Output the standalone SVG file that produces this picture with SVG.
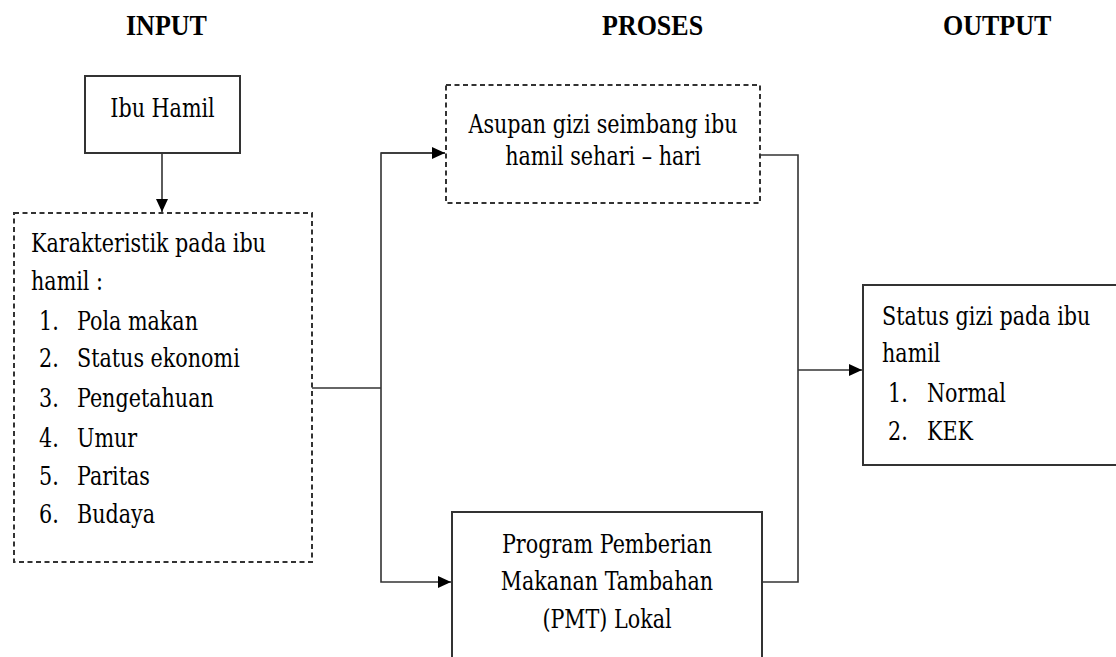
<svg xmlns="http://www.w3.org/2000/svg" width="1116" height="657" viewBox="0 0 1116 657">
<style>
text{font-family:"DejaVu Serif","Liberation Serif",serif;font-stretch:condensed;font-size:23px;fill:#000}
.h{font-family:"Liberation Serif","Times New Roman",serif;font-stretch:normal;font-size:26px;font-weight:bold}
.c{text-anchor:middle}
.box{fill:#fff;stroke:#333;stroke-width:2}
.dash{stroke-dasharray:5,3.5}
.ln{fill:none;stroke:#333;stroke-width:1.6}
</style>
<defs>
<marker id="ah" viewBox="0 0 10 10" refX="10" refY="5" markerWidth="13" markerHeight="12" markerUnits="userSpaceOnUse" orient="auto" preserveAspectRatio="none">
<path d="M0,0 L10,5 L0,10 Z" fill="#000"/>
</marker>
</defs>
<rect width="1116" height="657" fill="#fff"/>
<g id="headers" transform="scale(1,1.1)">
<text class="h" x="126" y="31.8">INPUT</text>
<text class="h" x="602" y="31.8">PROSES</text>
<text class="h" x="943" y="31.8">OUTPUT</text>
</g>
<g id="connectors">
<line class="ln" x1="162" y1="153" x2="162" y2="212" marker-end="url(#ah)"/>
<polyline class="ln" points="312,388 381,388"/>
<polyline class="ln" points="445,153 381,153 381,582 451,582" marker-end="url(#ah)"/>
<line class="ln" x1="381" y1="153" x2="445" y2="153" marker-end="url(#ah)"/>
<polyline class="ln" points="760,155 798,155 798,582 762,582"/>
<line class="ln" x1="798" y1="370" x2="862" y2="370" marker-end="url(#ah)"/>
</g>
<g id="ibu-hamil">
<rect class="box" x="85" y="76" width="155" height="77"/>
<g transform="scale(1,1.1)"><text class="c" x="162.5" y="106.4">Ibu Hamil</text></g>
</g>
<g id="karakteristik">
<rect class="box dash" x="14" y="213" width="298" height="349"/>
<g transform="scale(1,1.1)">
<text x="31" y="229.1">Karakteristik pada ibu</text>
<text x="31" y="263.6">hamil :</text>
<text x="39" y="300">1.</text><text x="77" y="300">Pola makan</text>
<text x="39" y="333.6">2.</text><text x="77" y="333.6">Status ekonomi</text>
<text x="39" y="370">3.</text><text x="77" y="370">Pengetahuan</text>
<text x="39" y="406.4">4.</text><text x="77" y="406.4">Umur</text>
<text x="39" y="440.9">5.</text><text x="77" y="440.9">Paritas</text>
<text x="39" y="475.5">6.</text><text x="77" y="475.5">Budaya</text>
</g>
</g>
<g id="asupan">
<rect class="box dash" x="446" y="85" width="314" height="118"/>
<g transform="scale(1,1.1)">
<text class="c" x="603" y="120.9">Asupan gizi seimbang ibu</text>
<text class="c" x="603" y="150">hamil sehari – hari</text>
</g>
</g>
<g id="pmt">
<rect class="box" x="452" y="512" width="310" height="160"/>
<g transform="scale(1,1.1)">
<text class="c" x="607" y="502.7">Program Pemberian</text>
<text class="c" x="607" y="536.4">Makanan Tambahan</text>
<text class="c" x="607" y="570.9">(PMT) Lokal</text>
</g>
</g>
<g id="status-gizi">
<rect class="box" x="863" y="285" width="270" height="180"/>
<g transform="scale(1,1.1)">
<text x="882" y="295.5">Status gizi pada ibu</text>
<text x="882" y="329.1">hamil</text>
<text x="888" y="365.5">1.</text><text x="927" y="365.5">Normal</text>
<text x="888" y="400">2.</text><text x="927" y="400">KEK</text>
</g>
</g>
</svg>
